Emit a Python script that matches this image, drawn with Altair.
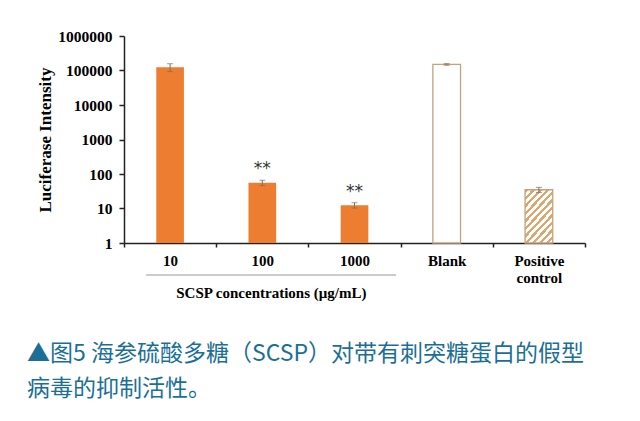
import altair as alt
import pandas as pd

categories = ["10", "100", "1000", "Blank", "Positive control"]
groups = ["SCSP", "SCSP", "SCSP", "Blank", "Positive"]
values = [125000, 56, 12.5, 150000, 35]
errors = [32000, 10, 2.2, 8000, 6]
marks = ["", "**", "**", "", ""]
y_ticks = [1, 10, 100, 1000, 10000, 100000, 1000000]
y_title = "Luciferase Intensity"
x_title = "SCSP concentrations (μg/mL)"
bracket_from = ["10"]
bracket_to = ["1000"]
caption = ["▲图5 海参硫酸多糖（SCSP）对带有刺突糖蛋白的假型", "病毒的抑制活性。"]

df = pd.DataFrame({"cat": categories, "group": groups, "value": values,
                   "err": errors, "mark": marks})
df["lo"] = df["value"] - df["err"]
df["hi"] = df["value"] + df["err"]

W, H = 461, 207
serif = "Liberation Serif, Times New Roman, serif"
orange = "#ED7D31"
tan = "#C9A07C"
stripe = "#D8A86E"

xscale = alt.Scale(domain=categories, paddingInner=0, paddingOuter=0)
yscale = alt.Scale(type="log", domain=[1, 1000000])

xaxis = alt.Axis(title=None, labelAngle=0, tickBand="extent",
                 labelFont=serif, labelFontWeight="bold", labelFontSize=15,
                 labelColor="black", labelPadding=6, tickSize=4,
                 domainColor="#222", tickColor="#222", domainWidth=1.5,
                 tickWidth=1.5, labelLineHeight=17,
                 labelExpr="split(datum.label, ' ')")
yaxis = alt.Axis(title=y_title, values=y_ticks, format="d", grid=False,
                 labelFont=serif, labelFontWeight="bold", labelFontSize=15.5,
                 labelColor="black", labelPadding=7, tickSize=5,
                 domainColor="#222", tickColor="#222", domainWidth=1.5,
                 tickWidth=1.5, titleFont=serif, titleFontWeight="bold",
                 titleFontSize=17, titleColor="black", titlePadding=3)

X = alt.X("cat:N", scale=xscale, axis=xaxis, sort=categories)
Y = alt.Y("value:Q", scale=yscale, axis=yaxis)
Y2 = alt.Y2(datum=1)

base = alt.Chart(df)

bars = base.transform_filter("datum.group == 'SCSP'").mark_bar(
    color=orange, width=alt.RelativeBandSize(0.3)
).encode(x=X, y=Y, y2=Y2)

blank = base.transform_filter("datum.group == 'Blank'").mark_bar(
    fill="white", stroke=tan, strokeWidth=1.3, width=alt.RelativeBandSize(0.3)
).encode(x=X, y=Y, y2=Y2)

N = 11
stops = []
for i in range(N):
    a, b, c = i / N, (i + 0.45) / N, (i + 1) / N
    stops += [alt.GradientStop(offset=a, color=stripe),
              alt.GradientStop(offset=b, color=stripe),
              alt.GradientStop(offset=b, color="white"),
              alt.GradientStop(offset=c, color="white")]
hatch = alt.LinearGradient(gradient="linear", stops=stops,
                           x1=0, y1=0, x2=0.655, y2=1.19)

positive = base.transform_filter("datum.group == 'Positive'").mark_bar(
    fill=hatch, stroke=tan, strokeWidth=1.3, width=alt.RelativeBandSize(0.3)
).encode(x=X, y=Y, y2=Y2)

errs = base.mark_errorbar(ticks=True, size=6, thickness=1, color="#8A6A55").encode(
    x=X, y=alt.Y("lo:Q", scale=yscale, axis=yaxis), y2="hi:Q")

stars = base.transform_filter("datum.mark != ''").mark_text(
    baseline="bottom", dy=-2, fontSize=17, font="DejaVu Sans", color="#333"
).encode(x=X, y=alt.Y("hi:Q", scale=yscale, axis=yaxis), text="mark:N")

xt = alt.Chart(pd.DataFrame({"cat": ["100"], "t": [x_title]})).mark_text(
    font=serif, fontWeight="bold", fontSize=15, color="black", dx=9,
    baseline="middle"
).encode(x=X, y=alt.value(H + 50), text="t:N")

bracket = alt.Chart(pd.DataFrame({"a": bracket_from, "b": bracket_to})).mark_rule(
    color="#999", strokeWidth=1
).encode(x=alt.X("a:N", scale=xscale, axis=xaxis, bandPosition=0.24),
         x2=alt.X2("b:N", bandPosition=0.95), y=alt.value(H + 32))

cap = alt.Chart(pd.DataFrame({"k": [0]})).mark_text(
    align="left", baseline="alphabetic", fontSize=23, lineHeight=35,
    font="Noto Sans CJK SC", color="#1B6F97"
).encode(x=alt.value(-97), y=alt.value(325), text=alt.value(caption))

chart = alt.layer(bars, blank, positive, errs, stars, xt, bracket, cap).properties(
    width=W, height=H,
    autosize=alt.AutoSizeParams(type="none"),
    padding={"left": 116, "top": 28, "right": 40, "bottom": 170},
    background="white"
).configure_view(stroke=None)

chart.save("out.html", embed_options={"renderer": "svg", "actions": False})
